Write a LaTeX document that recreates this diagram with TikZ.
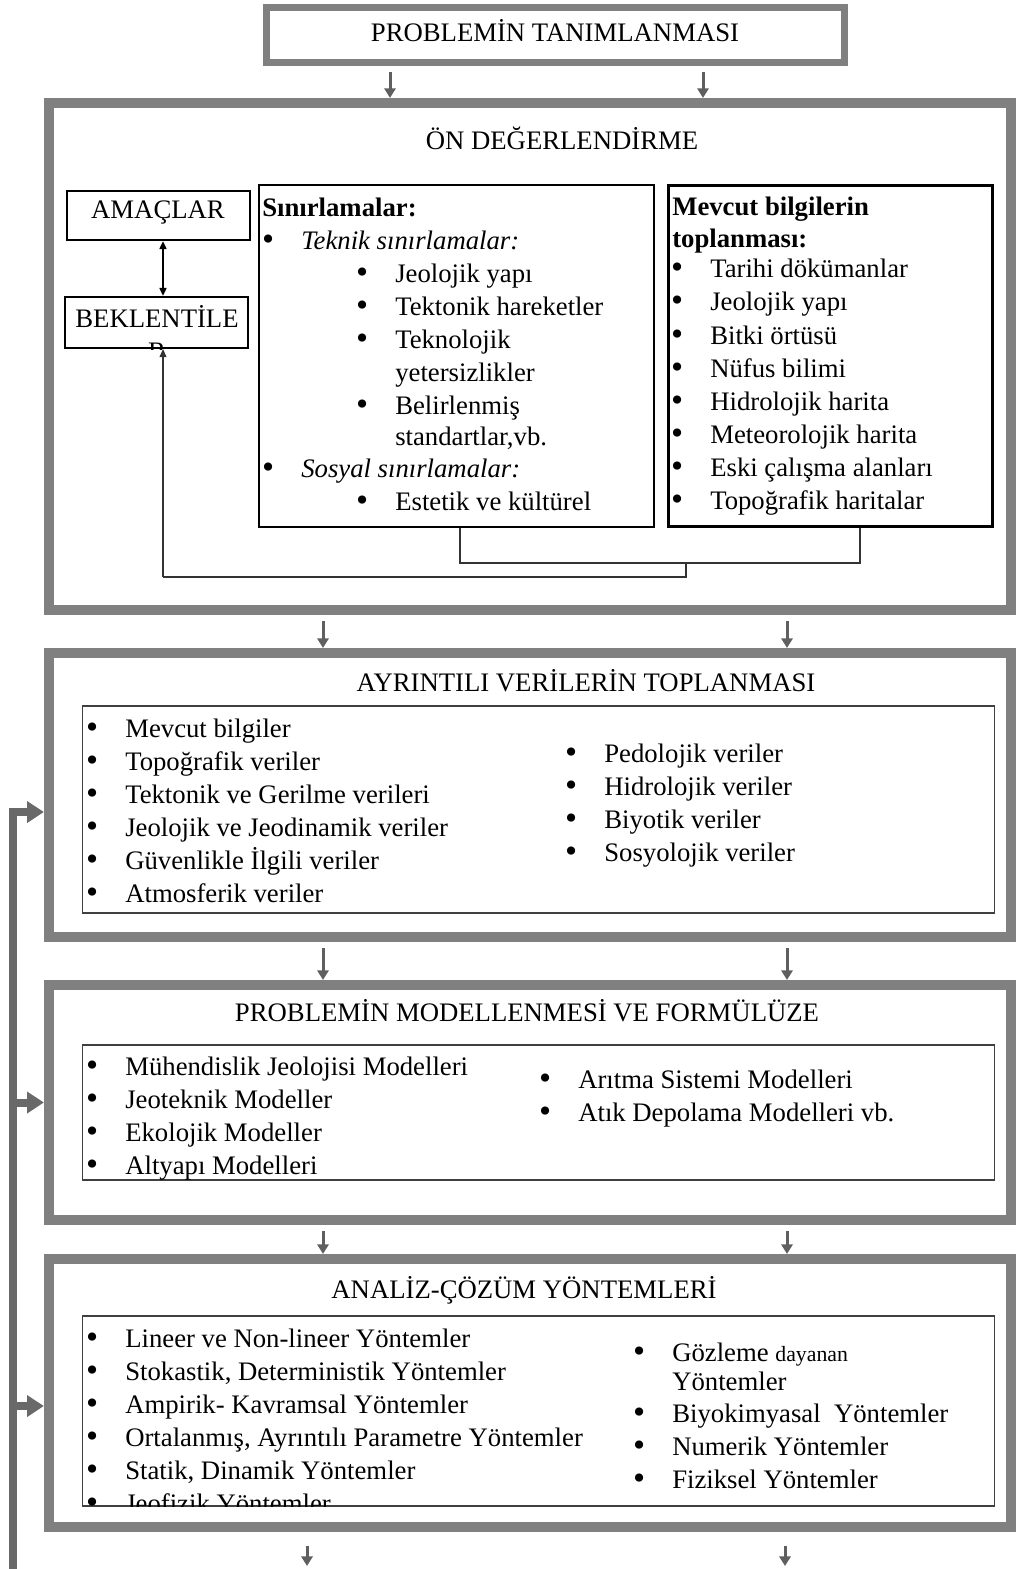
\documentclass[tikz,border=0pt]{standalone}
\usepackage{fontspec}
\setmainfont{Liberation Serif}
\newfontfamily\bulfont{DejaVu Sans}
\usetikzlibrary{arrows.meta,positioning}
\definecolor{framegray}{HTML}{808080}
\definecolor{flowgray}{HTML}{5F5F5F}
\definecolor{bargray}{HTML}{696969}
\newcommand{\bodysize}{\fontsize{19}{23}\selectfont}
\newcommand{\bul}{\llap{{\bulfont\upshape\mdseries\fontsize{20}{23}\selectfont •}\hspace{0.62cm}}}

\begin{document}
\begin{tikzpicture}[x=0.025cm,y=-0.025cm,
        frame/.style={draw=framegray,line width=0.25cm,minimum width=24.05cm,inner sep=0},
        box/.style={draw=black,line width=0.05cm,inner sep=0},
        listbox/.style={draw=black!75,line width=0.03cm,minimum width=22.775cm,inner sep=0},
        txt/.style={anchor=base west,inner sep=0,font=\bodysize},
        ttl/.style={anchor=base,inner sep=0,font=\bodysize},
        flow/.style={draw=flowgray,line width=0.075cm,shorten <=0.15cm,-{Triangle[length=0.24cm,width=0.28cm]}},
        link/.style={draw=black!80,line width=0.03cm},
        tip/.style={-{Triangle[length=0.2cm,width=0.17cm]}},
        fbarrow/.style={draw=bargray,line width=0.2cm,-{Triangle[length=0.42cm,width=0.52cm]}}]
        \useasboundingbox (0,0) rectangle (1016,1569);

        % frames
        \node[frame,line width=0.175cm,minimum width=14.45cm,minimum height=1.375cm] (prob) at (555.5,35) {};
        \node[frame,minimum height=12.675cm] (onde) at (530,356.5) {};
        \node[frame,minimum height=7.1cm] (ayr) at (530,795) {};
        \node[frame,minimum height=5.875cm] (model) at (530,1102.5) {};
        \node[frame,minimum height=6.7cm] (analiz) at (530,1393) {};
        \node[ttl] (probtxt) at (555,42) {PROBLEMİN TANIMLANMASI};

        % arrows between frames
        \coordinate (c1) at (390,0);
        \coordinate (c2) at (703,0);
        \coordinate (c3) at (323,0);
        \coordinate (c4) at (787,0);
        \coordinate (e1) at (307,1566);
        \coordinate (e2) at (785,1566);
        \draw[flow] (prob.south -| c1) -- (onde.north -| c1);
        \draw[flow] (prob.south -| c2) -- (onde.north -| c2);
        \draw[flow] (onde.south -| c3) -- (ayr.north -| c3);
        \draw[flow] (onde.south -| c4) -- (ayr.north -| c4);
        \draw[flow] (ayr.south -| c3) -- (model.north -| c3);
        \draw[flow] (ayr.south -| c4) -- (model.north -| c4);
        \draw[flow] (model.south -| c3) -- (analiz.north -| c3);
        \draw[flow] (model.south -| c4) -- (analiz.north -| c4);
        \draw[flow,shorten <=0.35cm] (analiz.south -| e1) -- (e1);
        \draw[flow,shorten <=0.35cm] (analiz.south -| e2) -- (e2);

        % on degerlendirme
        \node[ttl] (ontxt) at (562,150) {ÖN DEĞERLENDİRME};
        \node[box,minimum width=4.575cm,minimum height=1.225cm] (amac) at (158.5,215.5) {};
        \node[box,minimum width=4.575cm,minimum height=1.275cm] (bekl) at (156.5,322.5) {};
        \node[box,line width=0.06cm,minimum width=9.875cm,minimum height=8.55cm] (sinir) at (456.5,356) {};
        \node[box,line width=0.075cm,minimum width=8.1cm,minimum height=8.525cm] (mevcut) at (830.5,356) {};
        \node[ttl] (amactxt) at (158,219) {AMAÇLAR};
        \node[ttl] (bekltxt) at (157,327) {BEKLENTİLE};
        \begin{scope}
            \clip (bekl.south west) rectangle (bekl.north east);
            \node[ttl] (bekltxtb) at (157,360) {R};
        \end{scope}

        \node[txt,font=\bodysize\bfseries] (s0) at (262,217) {Sınırlamalar:};
        \node[txt,font=\bodysize\itshape] (s1) at (301,250) {\bul Teknik sınırlamalar:};
        \node[txt] (s2) at (395,283) {\bul Jeolojik yapı};
        \node[txt] (s3) at (395,316) {\bul Tektonik hareketler};
        \node[txt] (s4) at (395,349) {\bul Teknolojik};
        \node[txt] (s5) at (395,381) {yetersizlikler};
        \node[txt] (s6) at (395,414) {\bul Belirlenmiş};
        \node[txt] (s7) at (395,445) {standartlar,vb.};
        \node[txt,font=\bodysize\itshape] (s8) at (301,477) {\bul Sosyal sınırlamalar:};
        \node[txt] (s9) at (395,510) {\bul Estetik ve kültürel};

        \node[txt,font=\bodysize\bfseries] (m0) at (672,216) {Mevcut bilgilerin};
        \node[txt,font=\bodysize\bfseries] (m1) at (672,248) {toplanması:};
        \node[txt] (m2) at (710,278) {\bul Tarihi dökümanlar};
        \node[txt] (m3) at (710,311) {\bul Jeolojik yapı};
        \node[txt] (m4) at (710,344) {\bul Bitki örtüsü};
        \node[txt] (m5) at (710,377) {\bul Nüfus bilimi};
        \node[txt] (m6) at (710,410) {\bul Hidrolojik harita};
        \node[txt] (m7) at (710,443) {\bul Meteorolojik harita};
        \node[txt] (m8) at (710,476) {\bul Eski çalışma alanları};
        \node[txt] (m9) at (710,509) {\bul Topoğrafik haritalar};

        \coordinate (j1) at (460,563);
        \coordinate (j2) at (860,563);
        \coordinate (j3) at (686,563);
        \coordinate (j4) at (163,577);
        \draw[link] (sinir.south -| j1) -- (j1) -- (j2) -- (mevcut.south -| j2);
        \draw[link] (j3) |- (j4);
        \draw[link,tip] (j4) -- (bekl.south -| j4);
        \draw[link,line width=0.05cm,draw=black,{Triangle[length=0.2cm,width=0.17cm]}-{Triangle[length=0.2cm,width=0.17cm]}] (amac.south -| j4) -- (bekl.north -| j4);

        % ayrintili veriler
        \node[listbox,minimum height=5.175cm] (ayrbox) at (538.5,809.5) {};
        \node[ttl] (ayrtxt) at (586,691) {AYRINTILI VERİLERİN TOPLANMASI};
        \node[txt] (a1) at (125,737) {\bul Mevcut bilgiler};
        \node[txt] (a2) at (125,770) {\bul Topoğrafik veriler};
        \node[txt] (a3) at (125,803) {\bul Tektonik ve Gerilme verileri};
        \node[txt] (a4) at (125,836) {\bul Jeolojik ve Jeodinamik veriler};
        \node[txt] (a5) at (125,869) {\bul Güvenlikle İlgili veriler};
        \node[txt] (a6) at (125,902) {\bul Atmosferik veriler};
        \node[txt] (a7) at (604,762) {\bul Pedolojik veriler};
        \node[txt] (a8) at (604,795) {\bul Hidrolojik veriler};
        \node[txt] (a9) at (604,828) {\bul Biyotik veriler};
        \node[txt] (a10) at (604,861) {\bul Sosyolojik veriler};

        % modelleme
        \node[listbox,minimum height=3.375cm] (modbox) at (538.5,1112.5) {};
        \node[ttl] (modtxt) at (527,1021) {PROBLEMİN MODELLENMESİ VE FORMÜLÜZE};
        \node[txt] (d1) at (125,1075) {\bul Mühendislik Jeolojisi Modelleri};
        \node[txt] (d2) at (125,1108) {\bul Jeoteknik Modeller};
        \node[txt] (d3) at (125,1141) {\bul Ekolojik Modeller};
        \node[txt] (d4) at (125,1174) {\bul Altyapı Modelleri};
        \node[txt] (d5) at (578,1088) {\bul Arıtma Sistemi Modelleri};
        \node[txt] (d6) at (578,1121) {\bul Atık Depolama Modelleri vb.};

        % analiz
        \node[listbox,minimum height=4.75cm] (anabox) at (538.5,1411) {};
        \node[ttl] (anatxt) at (524,1298) {ANALİZ-ÇÖZÜM YÖNTEMLERİ};
        \node[txt] (y1) at (125,1347) {\bul Lineer ve Non-lineer Yöntemler};
        \node[txt] (y2) at (125,1380) {\bul Stokastik, Deterministik Yöntemler};
        \node[txt] (y3) at (125,1413) {\bul Ampirik- Kavramsal Yöntemler};
        \node[txt] (y4) at (125,1446) {\bul Ortalanmış, Ayrıntılı Parametre Yöntemler};
        \node[txt] (y5) at (125,1479) {\bul Statik, Dinamik Yöntemler};
        \begin{scope}
            \clip (anabox.south west) rectangle (anabox.north east);
            \node[txt] (y6) at (125,1512) {\bul Jeofizik Yöntemler};
        \end{scope}
        \node[txt] (y7) at (672,1361) {\bul Gözleme {\fontsize{15.5}{18}\selectfont dayanan}};
        \node[txt] (y8) at (672,1390) {Yöntemler};
        \node[txt] (y9) at (672,1422) {\bul Biyokimyasal\ \ Yöntemler};
        \node[txt] (y10) at (672,1455) {\bul Numerik Yöntemler};
        \node[txt] (y11) at (672,1488) {\bul Fiziksel Yöntemler};

        % feedback bar
        \coordinate (fbend) at (13,1569);
        \coordinate (fa) at ([yshift=-0.425cm]ayr.west);
        \coordinate (fc) at ([yshift=-0.325cm]analiz.west);
        \draw[fbarrow] (fbend) |- (fa);
        \draw[fbarrow] (fbend |- model.west) -- (model.west);
        \draw[fbarrow] (fbend |- fc) -- (fc);
    \end{tikzpicture}
\end{document}
